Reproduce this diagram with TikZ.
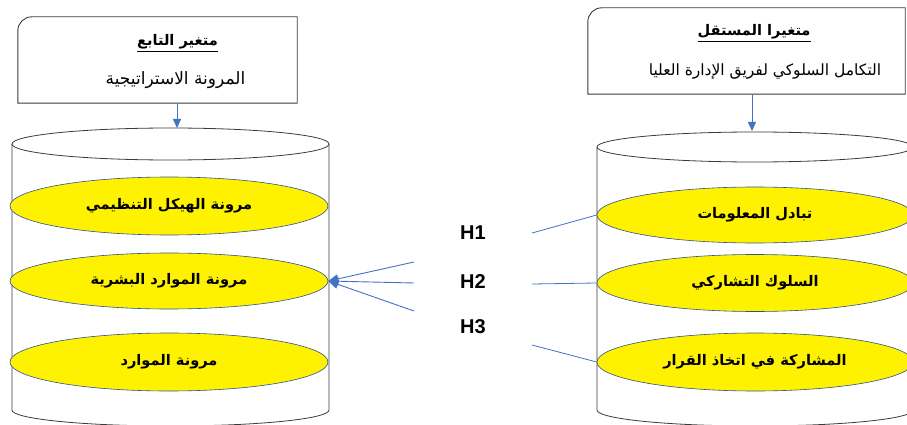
\documentclass[tikz,border=0pt]{standalone}
\usepackage{fontspec}
\setmainfont{Liberation Sans}
\newfontfamily\arabicfont[Script=Arabic]{DejaVu Sans}
\TeXXeTstate=1
\usetikzlibrary{shapes.geometric,arrows.meta}
\definecolor{conn}{HTML}{4472C4}
\definecolor{ellline}{HTML}{2F528F}
\definecolor{frame}{HTML}{3A3A3A}
\begin{document}
\begin{tikzpicture}[x=1pt,y=-1pt,
  boxline/.style={draw=frame,line width=0.9pt},
  cylline/.style={draw=frame,line width=0.8pt},
  yell/.style={ellipse,draw=ellline,line width=0.6pt,fill=yellow,inner sep=0pt},
  elltext/.style={font=\arabicfont\bfseries\fontsize{14.6}{16}\selectfont},
  titletext/.style={font=\arabicfont\bfseries\fontsize{14.6}{16}\selectfont},
  subtext/.style={font=\arabicfont\fontsize{15.5}{17}\selectfont},
  hyp/.style={font=\bfseries\fontsize{20}{24}\selectfont},
  conline/.style={draw=conn,line width=0.8pt},
  arr/.style={draw=conn,line width=0.9pt,-{Triangle[width=9pt,length=10pt]}}]
\useasboundingbox (0,0) rectangle (907,425);
\clip (0,0) rectangle (907,425);
% boxes
\node[minimum width=279pt,minimum height=86pt,inner sep=0pt] (lbox) at (157.5,60) {};
\draw[boxline] (lbox.south west) [rounded corners=14pt] -- (lbox.north west) [sharp corners] -- (lbox.north east) -- (lbox.south east) -- cycle;
\node[minimum width=317pt,minimum height=86pt,inner sep=0pt] (rbox) at (746.5,51) {};
\draw[boxline] (rbox.south west) [rounded corners=14pt] -- (rbox.north west) [sharp corners] -- (rbox.north east) -- (rbox.south east) -- cycle;
\node[titletext] (ltitle) at (177.5,43) {\underline{\beginR متغير التابع\endR}};
\node[subtext,font=\arabicfont\fontsize{17}{19}\selectfont] (lsub) at (175.5,80) {\beginR المرونة الاستراتيجية\endR};
\node[titletext] (rtitle) at (754,33) {\underline{\beginR متغيرا المستقل\endR}};
\node[subtext] (rsub) at (765,72) {\beginR التكامل السلوكي لفريق الإدارة العليا\endR};
% left cylinder
\draw[cylline] (12,144) -- (12,410) arc[start angle=180,end angle=360,x radius=158.5pt,y radius=16pt] -- (329,144);
\draw[cylline,fill=white] (170.5,144) ellipse [x radius=158.5pt,y radius=16pt];
\coordinate (ltop) at (177,128);
% right cylinder
\draw[cylline] (597,147) -- (597,410) arc[start angle=180,end angle=360,x radius=158pt,y radius=16pt] -- (913,147);
\draw[cylline,fill=white] (755,147) ellipse [x radius=158pt,y radius=15pt];
\coordinate (rtop) at (752,131);
% ellipses
\node[yell,minimum width=318pt,minimum height=58pt] (l1) at (169,206) {};
\node[yell,minimum width=318pt,minimum height=56pt] (l2) at (169,281) {};
\node[yell,minimum width=318pt,minimum height=58pt] (l3) at (169,362) {};
\node[yell,minimum width=316pt,minimum height=56pt] (r1) at (755,215) {};
\node[yell,minimum width=316pt,minimum height=57pt] (r2) at (755,283) {};
\node[yell,minimum width=316pt,minimum height=58pt] (r3) at (755,362) {};
\node[elltext] at (l1) {\beginR مرونة الهيكل التنظيمي\endR};
\node[elltext] at (l2) {\beginR مرونة الموارد البشرية\endR};
\node[elltext] at (l3) {\beginR مرونة الموارد\endR};
\node[elltext] at (r1) {\beginR تبادل المعلومات\endR};
\node[elltext] at (r2) {\beginR السلوك التشاركي\endR};
\node[elltext] at (r3) {\beginR المشاركة في اتخاذ القرار\endR};
% arrows from boxes
\draw[arr,-{Triangle[width=8pt,length=9pt]}] (lbox.south -| ltop) -- (ltop);
\draw[arr,-{Triangle[width=8pt,length=9pt]}] (rbox.south -| rtop) -- (rtop);
% hypotheses
\node[hyp] (h1) at (473,233) {H1};
\node[hyp] (h2) at (473,282) {H2};
\node[hyp] (h3) at (473,327) {H3};
\coordinate (c1) at (532,233);
\coordinate (c2) at (532,284);
\coordinate (c3) at (532,345);
\draw[conline] (c1) -- (r1.west);
\draw[conline] (c2) -- (r2.west);
\draw[conline] (c3) -- (r3.west);
\coordinate (d1) at (414,262);
\coordinate (d2) at (414,283);
\coordinate (d3) at (414,311);
\draw[arr] (d1) -- (l2.east);
\draw[arr] (d2) -- (l2.east);
\draw[arr] (d3) -- (l2.east);
\end{tikzpicture}
\end{document}
